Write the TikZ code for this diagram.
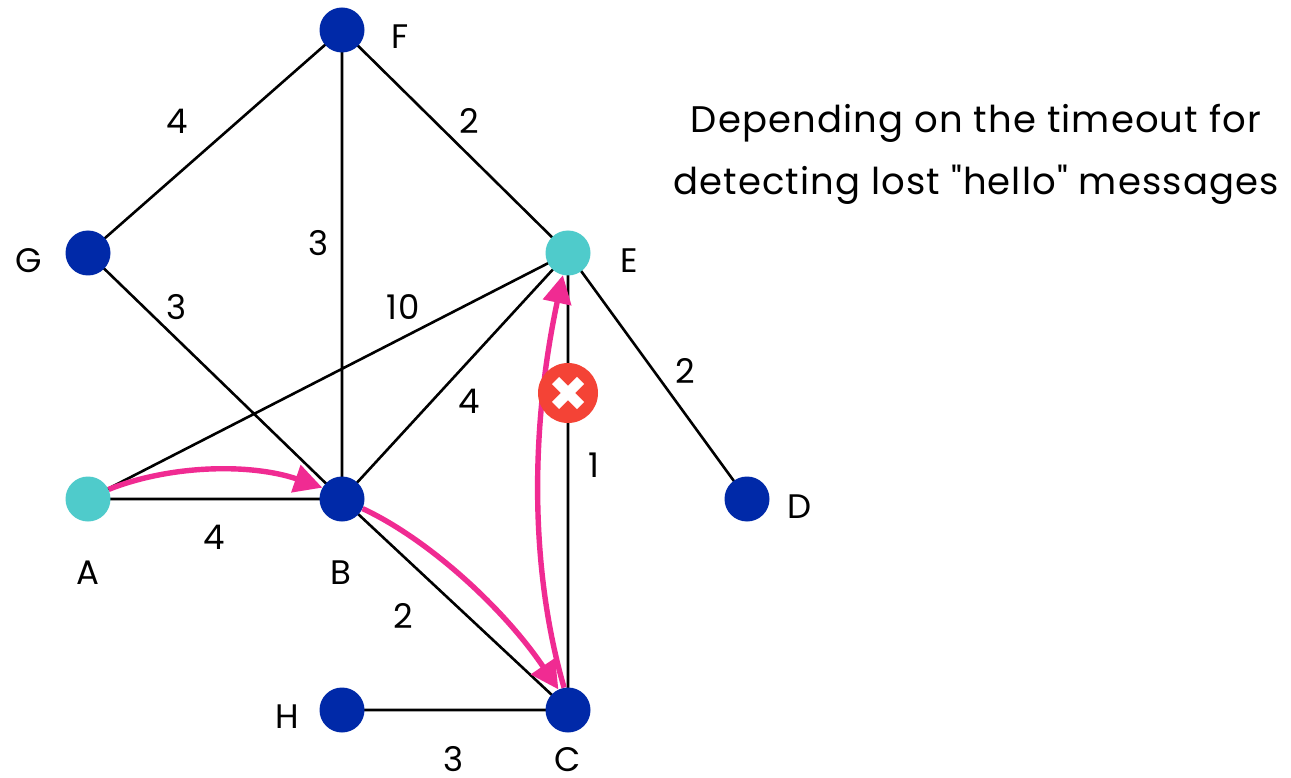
\documentclass[tikz,border=0pt]{standalone}
\usepackage{fontspec}
\setmainfont{Poppins}
\newfontfamily\labfont{Poppins}[LetterSpace=3]
\usetikzlibrary{arrows.meta}
\definecolor{navy}{HTML}{0029A8}
\definecolor{teal}{HTML}{4FCBCB}
\definecolor{pinkc}{HTML}{F02B92}
\definecolor{redc}{HTML}{F44336}
\tikzset{
  x=1pt,y=-1pt,
  vtx/.style={circle,minimum size=45pt,inner sep=0pt,fill=navy},
  vtxb/.style={vtx,fill=teal},
  edge/.style={draw=black,line width=2.6pt},
  hop/.style={draw=pinkc,line width=5.4pt,-{Triangle[length=28pt,width=28pt]}},
  lab/.style={font=\labfont\fontsize{34}{36}\selectfont,text=black,inner sep=0pt},
}
\begin{document}
\begin{tikzpicture}
\useasboundingbox (0,0) rectangle (1291,778);
\fill[white] (0,0) rectangle (1291,778);
\coordinate (Fc) at (342,30);
\coordinate (Gc) at (88,253);
\coordinate (Ec) at (568,253);
\coordinate (Ac) at (88,499);
\coordinate (Bc) at (342,499);
\coordinate (Cc) at (568,710);
\coordinate (Hc) at (342,710);
\coordinate (Dc) at (747,499);
\draw[edge] (Fc)--(Gc) (Fc)--(Bc) (Fc)--(Ec) (Gc)--(Bc) (Ec)--(Ac) (Ec)--(Bc) (Ec)--(Cc) (Ec)--(Dc) (Ac)--(Bc) (Bc)--(Cc) (Hc)--(Cc);
\node[vtx] (F) at (Fc) {};
\node[vtx] (G) at (Gc) {};
\node[vtxb] (E) at (Ec) {};
\node[vtxb] (A) at (Ac) {};
\node[vtx] (B) at (Bc) {};
\node[vtx] (C) at (Cc) {};
\node[vtx] (H) at (Hc) {};
\node[vtx] (D) at (Dc) {};
\draw[hop] (A.25) .. controls (170,465) and (250,463) .. (B.150);
\draw[hop] (B.-25) .. controls (430,540) and (505,610) .. (C.115);
\draw[hop] (C.100) .. controls (530,570) and (530,430) .. (E.-103);
\node[circle,fill=redc,minimum size=60pt,inner sep=0pt] (X) at (568,393) {};
\draw[white,line width=10pt] (555.5,380.5)--(580.5,405.5) (580.5,380.5)--(555.5,405.5);
\node[lab] at (400,37) {F};
\node[lab] at (29,261) {G};
\node[lab] at (629,261) {E};
\node[lab] at (88,573) {A};
\node[lab] at (341,573) {B};
\node[lab] at (568,760) {C};
\node[lab] at (287,717) {H};
\node[lab] at (800,507) {D};
\node[lab] at (177,121) {4};
\node[lab] at (469,121) {2};
\node[lab] at (319,243) {3};
\node[lab] at (177,307) {3};
\node[lab] at (403,307) {10};
\node[lab] at (469,401) {4};
\node[lab] at (685,371) {2};
\node[lab] at (594,465) {1};
\node[lab] at (214,537) {4};
\node[lab] at (403,616) {2};
\node[lab] at (454,759) {3};
\node[lab,align=center,font=\labfont\fontsize{37}{62}\selectfont] at (976,154) {Depending on the timeout for\\detecting lost "hello" messages};
\end{tikzpicture}
\end{document}
